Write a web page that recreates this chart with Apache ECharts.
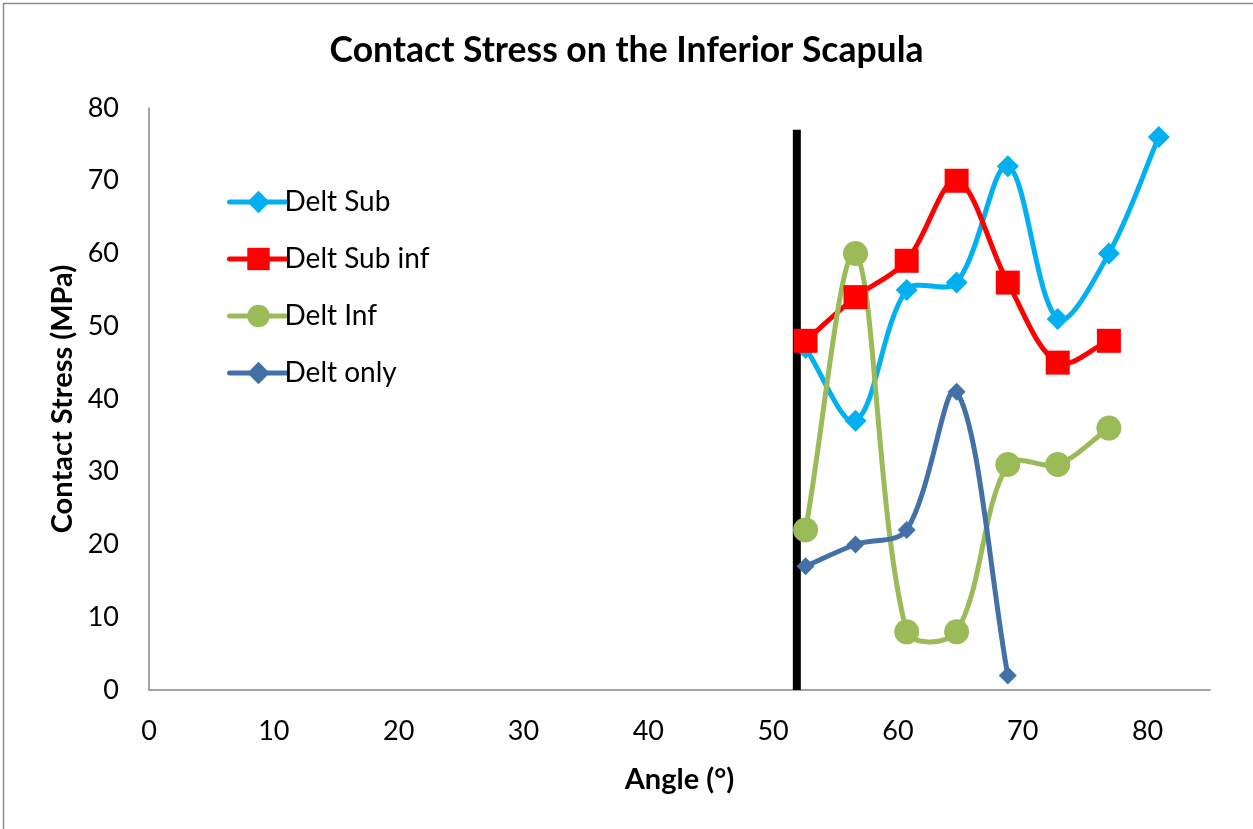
<!DOCTYPE html>
<html>
<head>
<meta charset="utf-8">
<script src="https://cdn.jsdelivr.net/npm/echarts@6/dist/echarts.min.js"></script>
<style>
  html, body { margin: 0; padding: 0; background: #fff; }
  #chart { width: 1253px; height: 829px; }
</style>
</head>
<body>
<div id="chart"></div>
<script>
// Abduction angles (degrees) at which contact stress was measured
const angles = [52.6, 56.6, 60.7, 64.7, 68.8, 72.8, 76.9, 80.9];

// Contact stress (MPa) per muscle configuration
const deltSub    = [47, 37, 55, 56, 72, 51, 60, 76];
const deltSubInf = [48, 54, 59, 70, 56, 45, 48];
const deltInf    = [22, 60, 8, 8, 31, 31, 36];
const deltOnly   = [17, 20, 22, 41, 2];

// Reference marker: vertical line at the threshold angle
const thresholdAngle = 51.9;
const thresholdTop = 77;

const xTicks = [0, 10, 20, 30, 40, 50, 60, 70, 80];

const seriesDefs = [
  { name: 'Delt Sub',     values: deltSub,    color: '#00B0F0', symbol: 'diamond', size: 22 },
  { name: 'Delt Sub inf', values: deltSubInf, color: '#FF0000', symbol: 'rect',    size: 24 },
  { name: 'Delt Inf',     values: deltInf,    color: '#9BBB59', symbol: 'circle',  size: 25 },
  { name: 'Delt only',    values: deltOnly,   color: '#4470A8', symbol: 'diamond', size: 18 }
];

function pairs(values) {
  return values.map((v, i) => [angles[i], v]);
}

const font = 'Lato, "Open Sans", "Noto Sans", sans-serif';

// Smoothed curve through the points (pixel space), with control arms
// weighted by neighbouring segment lengths to limit overshoot.
function smoothPath(pts) {
  const f = 1 / 3;
  const dist = (a, b) => Math.hypot(b[0] - a[0], b[1] - a[1]);
  let d = 'M' + pts[0][0] + ' ' + pts[0][1];
  for (let i = 0; i < pts.length - 1; i++) {
    const p0 = pts[Math.max(i - 1, 0)];
    const p1 = pts[i];
    const p2 = pts[i + 1];
    const p3 = pts[Math.min(i + 2, pts.length - 1)];
    const d01 = dist(p0, p1), d12 = dist(p1, p2), d23 = dist(p2, p3);
    const w1 = (d01 + d12) > 0 ? f * d12 / (d01 + d12) : 0;
    const w2 = (d12 + d23) > 0 ? f * d12 / (d12 + d23) : 0;
    const c1x = p1[0] + (p2[0] - p0[0]) * w1;
    const c1y = p1[1] + (p2[1] - p0[1]) * w1;
    const c2x = p2[0] - (p3[0] - p1[0]) * w2;
    const c2y = p2[1] - (p3[1] - p1[1]) * w2;
    d += ' C' + c1x + ' ' + c1y + ' ' + c2x + ' ' + c2y + ' ' + p2[0] + ' ' + p2[1];
  }
  return d;
}

function curveSeries(def) {
  const data = pairs(def.values);
  return {
    name: def.name,
    type: 'custom',
    data: data,
    encode: { x: 0, y: 1 },
    clip: false,
    z: 2,
    silent: true,
    renderItem: function (params, api) {
      if (params.dataIndex !== 0) return null;
      const pts = data.map(p => api.coord(p));
      return {
        type: 'path',
        shape: { pathData: smoothPath(pts) },
        style: { stroke: def.color, lineWidth: 5, fill: 'none', lineCap: 'round', lineJoin: 'round' }
      };
    }
  };
}

function markerSeries(def) {
  return {
    name: def.name,
    type: 'line',
    data: pairs(def.values),
    symbol: def.symbol,
    symbolSize: def.size,
    lineStyle: { color: def.color, width: 5, opacity: 0 },
    itemStyle: { color: def.color },
    z: 3
  };
}

const series = [{
  name: 'threshold',
  type: 'line',
  data: [[thresholdAngle, 0], [thresholdAngle, thresholdTop]],
  symbol: 'none',
  lineStyle: { color: '#000', width: 8 },
  z: 1,
  silent: true
}];
// Marker series first so the legend takes its line-and-symbol icon
seriesDefs.forEach(def => series.push(markerSeries(def)));
seriesDefs.forEach(def => series.push(curveSeries(def)));

const chart = echarts.init(document.getElementById('chart'));

chart.setOption({
  backgroundColor: '#ffffff',
  animation: false,
  title: {
    text: 'Contact Stress on the Inferior Scapula',
    left: 'center',
    top: 28,
    textStyle: { fontFamily: font, fontWeight: 'bold', fontSize: 35.5, color: '#000' }
  },
  legend: {
    orient: 'vertical',
    left: 222,
    top: 183,
    itemWidth: 58,
    itemHeight: 28,
    itemGap: 29,
    textStyle: { fontFamily: font, fontSize: 28, color: '#000', padding: [0, 0, 0, -8] },
    data: seriesDefs.map(def => ({
      name: def.name,
      lineStyle: { color: def.color, width: 5, opacity: 1, cap: 'round' },
      itemStyle: { color: def.color }
    }))
  },
  graphic: [{
    type: 'rect',
    shape: { x: 3.5, y: 3.5, width: 1300, height: 900 },
    style: { fill: 'none', stroke: '#8c8c8c', lineWidth: 1.5 },
    silent: true
  }],
  grid: { left: 149, right: 43, top: 108, bottom: 139 },
  xAxis: {
    type: 'value',
    min: 0,
    max: 85,
    interval: 10,
    name: 'Angle (°)',
    nameLocation: 'middle',
    nameGap: 75,
    nameTextStyle: { fontFamily: font, fontWeight: 'bold', fontSize: 29, color: '#000' },
    axisLine: { show: true, lineStyle: { color: '#868686', width: 1.5 } },
    axisTick: { show: false },
    splitLine: { show: false },
    axisLabel: {
      margin: 28,
      fontFamily: font, fontSize: 27, color: '#000',
      formatter: v => xTicks.indexOf(v) >= 0 ? String(v) : ''
    }
  },
  yAxis: {
    type: 'value',
    min: 0,
    max: 80,
    interval: 10,
    name: 'Contact Stress (MPa)',
    nameLocation: 'middle',
    nameGap: 72,
    nameTextStyle: { fontFamily: font, fontWeight: 'bold', fontSize: 29, color: '#000' },
    axisLine: { show: true, lineStyle: { color: '#868686', width: 1.5 } },
    axisTick: { show: false },
    splitLine: { show: false },
    axisLabel: { margin: 30, fontFamily: font, fontSize: 27, color: '#000' }
  },
  series: series
});
</script>
</body>
</html>
